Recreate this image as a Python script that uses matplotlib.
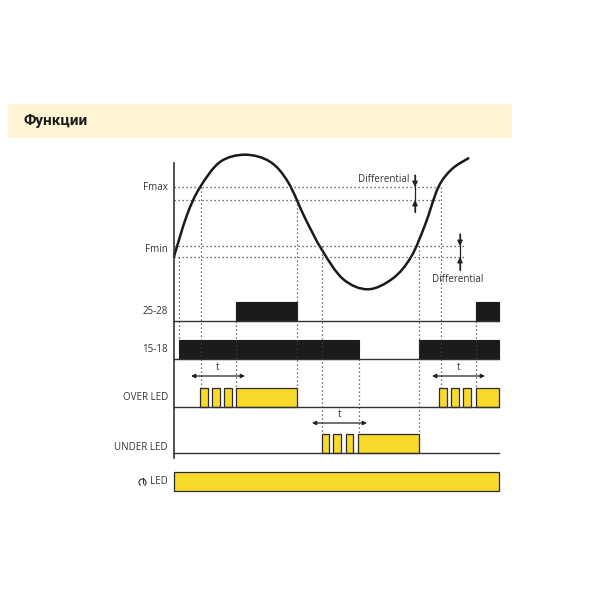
import matplotlib
matplotlib.use("Agg")
import matplotlib.pyplot as plt
from matplotlib.patches import Rectangle, Arc, PathPatch
from matplotlib.path import Path

plt.rcParams['font.family'] = ['Open Sans', 'DejaVu Sans']

# ---------------- data (pixel-space timing diagram) ----------------
title = "Функции"
row_labels = ["25-28", "15-18", "OVER LED", "UNDER LED", "LED"]
row_label_y = [312, 350, 398, 447, 482]

level_labels = ["Fmax", "Fmin"]
level_label_y = [187, 250]
fmax_lines = [187, 200]
fmin_lines = [246, 257]

# frequency curve
curve_x = [174.0, 187.0, 200.0, 220.0, 245.0, 270.0, 288.0, 305.0, 322.0,
           343.0, 368.0, 393.0, 411.0, 425.0, 438.3, 452.0, 468.3]
curve_y = [256.5, 215.0, 187.3, 162.0, 154.7, 161.7, 182.0, 218.0, 250.0,
           279.0, 289.3, 278.3, 257.0, 225.0, 187.3, 169.0, 158.3]

# relay outputs (start, end)
relay_2528 = [(236, 297), (476, 499)]
relay_1518 = [(179, 359), (419, 499)]
# LED pulses (start, end)
over_led = [(200, 207.7), (212.3, 220), (224.3, 232), (236, 297),
            (439.3, 446.7), (451.3, 459), (463.3, 471), (476, 499)]
under_led = [(321.7, 329), (333.3, 341), (345.7, 353.3), (357.7, 419)]
power_led = [(174, 499)]

# row geometry: (top, baseline)
row_2528 = (302, 321)
row_1518 = (340, 359)
row_over = (388, 407)
row_under = (434, 453)
row_power = (472, 491)

# vertical dotted guides: x, y_top, y_bottom
guides = [(179, 257, 340), (201, 187, 388), (236, 321, 388), (297, 200, 388),
          (322, 246, 434), (359, 359, 434), (419, 246, 453), (441, 187, 388),
          (476, 321, 388)]

# t dimension arrows: x0, x1, y
t_arrows = [(191, 245, 376), (432, 485, 376), (312, 367, 423)]

# differential arrows: x, top, upper line, lower line, bottom
diff_arrows = [(415, 175, 187, 200, 212), (460, 234, 246, 257, 270)]
diff_text = [(409, 179, 'right'), (432, 280, 'left')]

YELLOW = '#F9DA2B'
BLACK = '#1b1b1b'
GRAY = '#444444'
TXT = '#333333'

fig = plt.figure(figsize=(6, 6), dpi=100)
ax = fig.add_axes([0, 0, 1, 1])
ax.set_xlim(0, 600)
ax.set_ylim(600, 0)
ax.axis('off')

# header band
ax.add_patch(Rectangle((8, 104), 504, 34, facecolor='#FFF4D4', edgecolor='none'))
ax.text(23, 121, title, fontsize=11, fontweight='bold', color='#1a1a1a',
        va='center', ha='left', family=['Roboto', 'DejaVu Sans'])

# level dotted lines
for y in fmax_lines:
    ax.plot([174, 441], [y, y], ls=(0, (1, 2.2)), color=GRAY, lw=0.9)
for y in fmin_lines:
    ax.plot([174, 465], [y, y], ls=(0, (1, 2.2)), color=GRAY, lw=0.9)

# vertical guides
for x, y0, y1 in guides:
    ax.plot([x, x], [y0, y1], ls=(0, (1, 2.2)), color=GRAY, lw=0.9)

# axis line
ax.plot([174, 174], [163, 458], color='#333333', lw=1.2)
# baselines
for top, base in (row_2528, row_1518, row_over, row_under):
    ax.plot([174, 499], [base, base], color='#333333', lw=1.0)

# smooth curve through the read points (Catmull-Rom as cubic Bezier path)
pts = list(zip(curve_x, curve_y))
verts = [pts[0]]
codes = [Path.MOVETO]
n = len(pts)
for i in range(n - 1):
    p0 = pts[i - 1] if i > 0 else pts[i]
    p1 = pts[i]
    p2 = pts[i + 1]
    p3 = pts[i + 2] if i + 2 < n else pts[i + 1]
    c1 = (p1[0] + (p2[0] - p0[0]) / 6, p1[1] + (p2[1] - p0[1]) / 6)
    c2 = (p2[0] - (p3[0] - p1[0]) / 6, p2[1] - (p3[1] - p1[1]) / 6)
    verts += [c1, c2, p2]
    codes += [Path.CURVE4] * 3
ax.add_patch(PathPatch(Path(verts, codes), facecolor='none', edgecolor='#1a1a1a',
                       lw=1.8, capstyle='round'))

# relays
for (top, base), segs in ((row_2528, relay_2528), (row_1518, relay_1518)):
    for s, e in segs:
        ax.add_patch(Rectangle((s, top), e - s, base - top, facecolor=BLACK,
                               edgecolor=BLACK, lw=0.8))

# LEDs
for (top, base), segs in ((row_over, over_led), (row_under, under_led),
                          (row_power, power_led)):
    for s, e in segs:
        ax.add_patch(Rectangle((s, top), e - s, base - top, facecolor=YELLOW,
                               edgecolor='#2a2a2a', lw=0.9))

# labels
for lab, y in zip(level_labels, level_label_y):
    ax.text(168, y, lab, fontsize=7, color=TXT, ha='right', va='center')
for lab, y in zip(row_labels, row_label_y):
    ax.text(168, y, lab, fontsize=7, color=TXT, ha='right', va='center')

# power symbol (no installed font has U+23FB): drawn as a shape
ax.add_patch(Arc((142.5, 482.5), 7, 7, theta1=120, theta2=60, color=TXT, lw=0.8))
ax.plot([142.5, 142.5], [477.5, 482.5], color=TXT, lw=0.8)

# t arrows
for x0, x1, y in t_arrows:
    ax.annotate('', xy=(x0, y), xytext=(x1, y),
                arrowprops=dict(arrowstyle='<|-|>', color='#222222', lw=0.9,
                                mutation_scale=6, shrinkA=0, shrinkB=0))
    ax.text((x0 + x1) / 2, y - 3, 't', fontsize=7, color=TXT,
            ha='center', va='bottom')

# differential arrows
for x, top, up, lo, bot in diff_arrows:
    ax.plot([x, x], [top, bot], color='#222222', lw=0.9)
    ax.annotate('', xy=(x, up), xytext=(x, top),
                arrowprops=dict(arrowstyle='-|>', color='#222222', lw=0.9,
                                mutation_scale=8, shrinkA=0, shrinkB=0))
    ax.annotate('', xy=(x, lo), xytext=(x, bot),
                arrowprops=dict(arrowstyle='-|>', color='#222222', lw=0.9,
                                mutation_scale=8, shrinkA=0, shrinkB=0))
for x, y, ha in diff_text:
    ax.text(x, y, 'Differential', fontsize=7, color=TXT, ha=ha, va='center')

fig.savefig('out.png', dpi=100, facecolor='white')
